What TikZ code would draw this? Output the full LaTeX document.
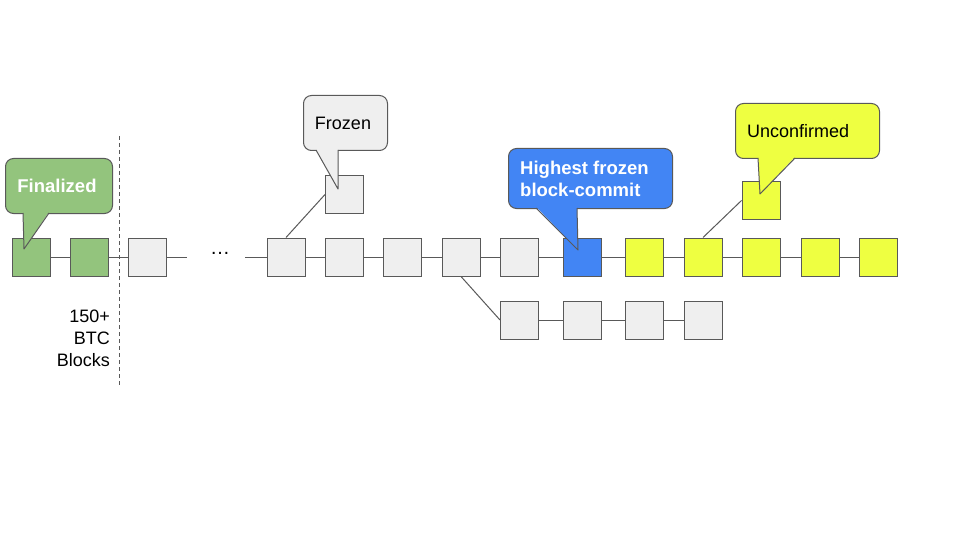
\documentclass[tikz,border=0pt]{standalone}
\usepackage{fontspec}
\setmainfont{Liberation Sans}
\definecolor{bordc}{HTML}{595959}
\definecolor{greenc}{HTML}{93C47D}
\definecolor{grayc}{HTML}{EFEFEF}
\definecolor{bluec}{HTML}{4285F4}
\definecolor{yelc}{HTML}{EEFF41}
\tikzset{
  blk/.style={draw=bordc, line width=1pt, minimum width=38pt, minimum height=38pt, inner sep=0pt, fill=#1},
  link/.style={draw=bordc, line width=1pt},
  callout/.style={draw=bordc, line width=1pt, rounded corners=8pt, fill=#1, inner sep=0pt},
}
\newcommand{\calloutbox}[9]{% name, fill, x1,y1,x2,y2, tailL, tailR, tip
  \node[callout=#2, anchor=north west, minimum width={(#5-#3)*1pt}, minimum height={(#6-#4)*1pt}] (#1) at (#3,#4) {};
  \coordinate (#1-tip) at #9;
  \fill[#2] (#7,#6-1.2) -- (#1-tip) -- (#8,#6-1.2) -- cycle;
  \draw[draw=bordc, line width=1pt, line join=round] (#7,#6) -- (#1-tip) -- (#8,#6);
}
\begin{document}
\begin{tikzpicture}[x=1pt, y=-1pt, font=\fontsize{18}{22}\selectfont]
\useasboundingbox[fill=white] (0,0) rectangle (960,540);

% dashed separator
\draw[bordc, line width=1pt, dash pattern=on 4pt off 3pt] (119,136) coordinate (sepT) -- (119,385) coordinate (sepB);

% main chain
\node[blk=greenc] (b1) at (31,257) {};
\node[blk=greenc] (b2) at (89,257) {};
\node[blk=grayc] (b3) at (147.5,257) {};
\coordinate (g1) at (187,257);
\coordinate (g2) at (245,257);
\node[inner sep=0pt] (dots) at (220,253) {\fontsize{20}{20}\selectfont …};
\node[blk=grayc] (b4) at (286,257) {};
\node[blk=grayc] (b5) at (344,257) {};
\node[blk=grayc] (b6) at (402.5,257) {};
\node[blk=grayc] (b7) at (461,257) {};
\node[blk=grayc] (b8) at (519.5,257) {};
\node[blk=bluec] (b9) at (582,257) {};
\node[blk=yelc] (b10) at (644.5,257) {};
\node[blk=yelc] (b11) at (703,257) {};
\node[blk=yelc] (b12) at (761,257) {};
\node[blk=yelc] (b13) at (820,257) {};
\node[blk=yelc] (b14) at (878,257) {};

% forks
\node[blk=grayc] (f1) at (344.5,194.5) {};
\node[blk=yelc] (y1) at (761,200.5) {};
\node[blk=grayc] (c1) at (519.5,320) {};
\node[blk=grayc] (c2) at (582,320) {};
\node[blk=grayc] (c3) at (644.5,320) {};
\node[blk=grayc] (c4) at (703,320) {};

% links
\draw[link] (b1) -- (b2);
\draw[link] (b2) -- (b3);
\draw[link] (b3) -- (g1);
\draw[link] (g2) -- (b4);
\foreach \a/\b in {b4/b5,b5/b6,b6/b7,b7/b8,b8/b9,b9/b10,b10/b11,b11/b12,b12/b13,b13/b14,c1/c2,c2/c3,c3/c4}
  \draw[link] (\a) -- (\b);
\draw[link] (b4.north) -- (f1.west);
\draw[link] (b7.south) -- (c1.west);
\draw[link] (b11.north) -- (y1.west);

% callouts
\calloutbox{fin}{greenc}{5}{158}{112}{213}{23}{49}{(24,249)}
\node[text=white, font=\fontsize{18.5}{22}\selectfont\bfseries] (finT) at (57,186) {Finalized};

\calloutbox{frz}{grayc}{303}{95}{387}{150}{316}{338}{(338,189)}
\node (frzT) at (343,123.5) {Frozen};

\calloutbox{hfb}{bluec}{508}{148}{672}{208}{536}{577}{(578,250)}
\node[text=white, font=\fontsize{18.5}{22}\selectfont\bfseries, align=left, anchor=west, inner sep=0pt] (hfbT) at (520,179) {Highest frozen\\block-commit};

\calloutbox{unc}{yelc}{735}{103}{879}{158}{758}{795}{(760,194)}
\node[anchor=west, inner sep=0pt] (uncT) at (747,131.5) {Unconfirmed};

% label
\node[align=right, anchor=east, inner sep=0pt] (lbl) at (110,338) {150+\\BTC\\Blocks};
\end{tikzpicture}
\end{document}
